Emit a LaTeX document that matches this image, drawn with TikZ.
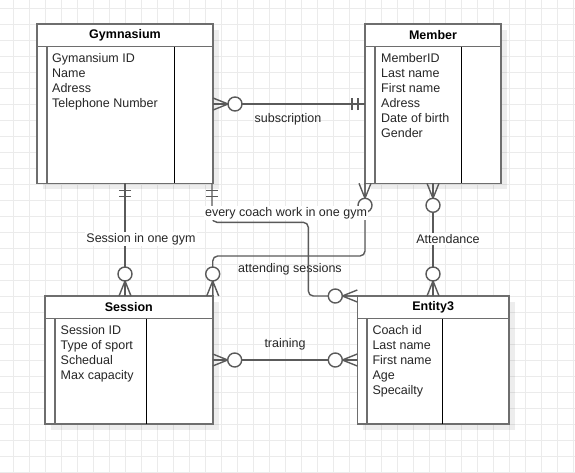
\documentclass[tikz,border=0pt]{standalone}
\usepackage{fontspec}
\setmainfont{Liberation Sans}
\usetikzlibrary{calc,shadows}
\definecolor{gridgray}{HTML}{EBEBEB}
\definecolor{edgegray}{HTML}{6E6E6E}
\definecolor{linkgray}{HTML}{5A5A5A}
\definecolor{inktext}{HTML}{262626}
\tikzset{
 link/.style={draw=linkgray,line width=1.4pt},
 zeromany/.pic={
  \draw[link] (0,-6) -- (15,0) -- (0,6) (0,0) -- (15,0);
  \draw[link,fill=white] (22,0) circle[radius=7];
 },
 mandone/.pic={
  \draw[link] (7,-6) -- (7,6) (13,-6) -- (13,6);
 }
}
\begin{document}
\begin{tikzpicture}[
 x=1pt,y=-1pt,
 gridline/.style={draw=gridgray,line width=1pt},
 entity/.style={draw=edgegray,line width=1.6pt,fill=white,rectangle,inner sep=0pt,outer sep=0pt,anchor=north west,
  drop shadow={shadow xshift=6pt,shadow yshift=-6pt,fill=black,opacity=0.07}},
 part/.style={draw=edgegray,line width=1.4pt},
 divider/.style={draw=black,line width=1pt},
 title/.style={font=\bfseries\fontsize{12.5}{15}\selectfont,text=black},
 attrs/.style={anchor=north west,align=left,inner sep=0pt,font=\fontsize{12.5}{15}\selectfont,text=inktext},
 tag/.style={font=\fontsize{12.5}{15}\selectfont,text=inktext,inner sep=1pt},
 cover/.style={tag,fill=white}
]
\useasboundingbox[fill=white] (0,0) rectangle (575,472);
% background grid
\foreach \gx in {13,29,...,573} \draw[gridline] (\gx,0) -- (\gx,472);
\foreach \gy in {8,24,...,472} \draw[gridline] (0,\gy) -- (575,\gy);

% entities
\node[entity,minimum width=176,minimum height=159.3] (gym) at (37,24) {};
\draw[part] ($(gym.north west)+(0,22.7)$) -- ($(gym.north east)+(0,22.7)$);
\draw[part] ($(gym.north west)+(10,22.7)$) -- ($(gym.south west)+(10,0)$);
\draw[divider] ($(gym.north west)+(137,22.7)$) -- ($(gym.south west)+(137,0)$);
\node[title] (gymtitle) at ($(gym.north)+(0,11.3)$) {Gymnasium};
\node[attrs] (gymattrs) at ($(gym.north west)+(15,29)$) {Gymansium ID\\Name\\Adress\\Telephone Number};

\node[entity,minimum width=136,minimum height=159.3] (member) at (365,24) {};
\draw[part] ($(member.north west)+(0,22.7)$) -- ($(member.north east)+(0,22.7)$);
\draw[part] ($(member.north west)+(10,22.7)$) -- ($(member.south west)+(10,0)$);
\draw[divider] ($(member.north west)+(96.7,22.7)$) -- ($(member.south west)+(96.7,0)$);
\node[title] (membertitle) at ($(member.north)+(0,11.3)$) {Member};
\node[attrs] (memberattrs) at ($(member.north west)+(16,29)$) {MemberID\\Last name\\First name\\Adress\\Date of birth\\Gender};

\node[entity,minimum width=167.7,minimum height=128] (session) at (45,296) {};
\draw[part] ($(session.north west)+(0,22.7)$) -- ($(session.north east)+(0,22.7)$);
\draw[part] ($(session.north west)+(10,22.7)$) -- ($(session.south west)+(10,0)$);
\draw[divider] ($(session.north west)+(101.7,22.7)$) -- ($(session.south west)+(101.7,0)$);
\node[title] (sessiontitle) at ($(session.north)+(0,11.3)$) {Session};
\node[attrs] (sessionattrs) at ($(session.north west)+(15.5,29)$) {Session ID\\Type of sport\\Schedual\\Max capacity};

\node[entity,minimum width=151.7,minimum height=128] (coach) at (357.3,296) {};
\draw[part] ($(coach.north west)+(0,22.7)$) -- ($(coach.north east)+(0,22.7)$);
\draw[part] ($(coach.north west)+(9.5,22.7)$) -- ($(coach.south west)+(9.5,0)$);
\draw[divider] ($(coach.north west)+(85.4,22.7)$) -- ($(coach.south west)+(85.4,0)$);
\node[title] (coachtitle) at ($(coach.north)+(0,11.3)$) {Entity3};
\node[attrs] (coachattrs) at ($(coach.north west)+(15,29)$) {Coach id\\Last name\\First name\\Age\\Specailty};

% relationships
\coordinate (subA) at ($(gym.north east)+(0,80)$);
\coordinate (subB) at ($(member.north west)+(0,80)$);
\coordinate (sgB) at (gym.south |- session.north);
\coordinate (cgA) at ($(gym.south east)+(-1,0)$);
\coordinate (cgB) at (coach.north west);
\coordinate (asA) at (member.south west);
\coordinate (asB) at (session.north east);
\coordinate (atB) at (member.south |- coach.north);
\coordinate (trA) at ($(session.north east)+(0,64)$);
\coordinate (trB) at (trA -| coach.west);

\draw[link] (subA) -- (subB);
\draw[link] (gym.south) -- (sgB);
\draw[link,rounded corners=5pt] (asA) -- ++(0,72.7) -| (asB);
\node[tag] (latt) at (290,269) {attending sessions};
\draw[link,rounded corners=5pt] (cgA) -- ++(0,39) -| ($(cgB)+(-49,0)$) -- (cgB);
\draw[link] (member.south) -- (atB);
\draw[link] (trA) -- (trB);

\pic at (subA) {zeromany};
\pic[rotate=180] at (subB) {mandone};
\pic[rotate=-90] at (gym.south) {mandone};
\pic[rotate=90] at (sgB) {zeromany};
\pic[rotate=-90] at (cgA) {mandone};
\pic[rotate=180] at (cgB) {zeromany};
\pic[rotate=-90] at (asA) {zeromany};
\pic[rotate=90] at (asB) {zeromany};
\pic[rotate=-90] at (member.south) {zeromany};
\pic[rotate=90] at (atB) {zeromany};
\pic at (trA) {zeromany};
\pic[rotate=180] at (trB) {zeromany};

\node[tag] (lsub) at (288,119) {subscription};
\node[cover] (lses) at (141,239) {Session in one gym};
\node[cover] (lcoach) at (286,213) {every coach work in one gym};
\node[cover] (lattend) at (448,239) {Attendance};
\node[tag] (ltrain) at (285,344) {training};
\end{tikzpicture}
\end{document}
